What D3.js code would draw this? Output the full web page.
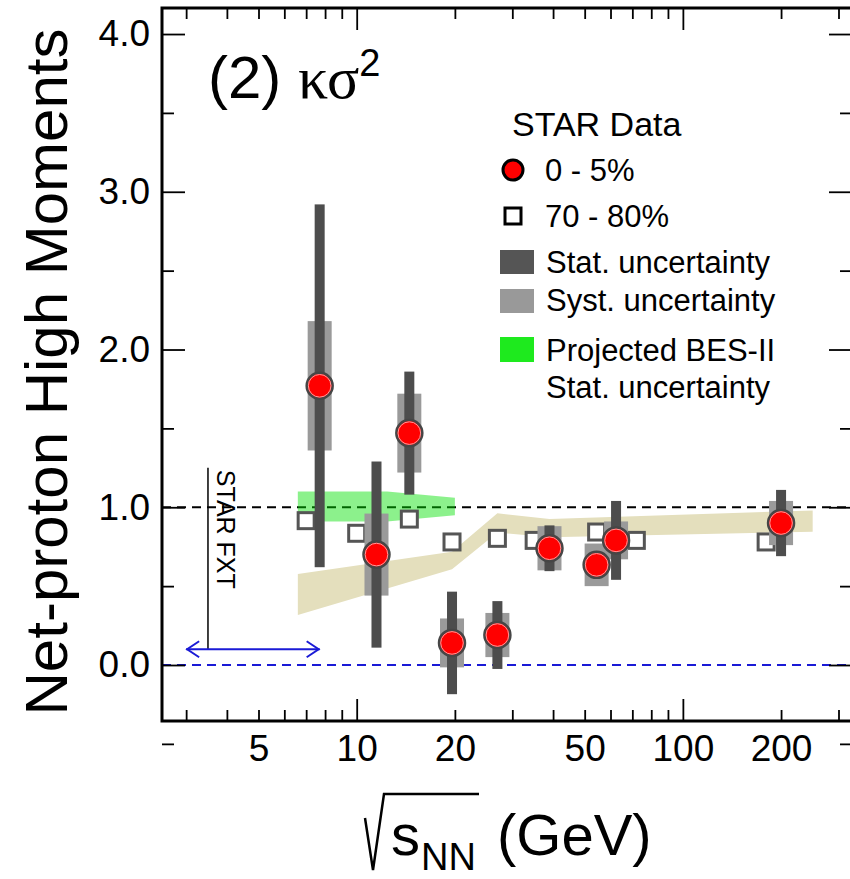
<!DOCTYPE html>
<html>
<head>
<meta charset="utf-8">
<script src="https://cdn.jsdelivr.net/npm/d3@7"></script>
<style>
  html, body { margin: 0; padding: 0; background: #fff; }
  svg { display: block; }
  text { font-family: "Liberation Sans", Arial, Helvetica, sans-serif; fill: #000; }
</style>
</head>
<body>
<svg id="chart" width="850" height="879"></svg>
<script>
// ---------------- data ----------------
// 0-5% central collisions
const energies  = [7.7, 11.5, 14.5, 19.6, 27, 39, 54.4, 62.4, 200];
const central   = [1.77, 0.70, 1.47, 0.14, 0.19, 0.74, 0.635, 0.79, 0.90];
const statErr   = [1.15, 0.59, 0.39, 0.325, 0.215, 0.145, 0.08, 0.25, 0.21];
const systErr   = [0.41, 0.26, 0.25, 0.155, 0.14, 0.14, 0.135, 0.12, 0.14];
// 70-80% peripheral collisions (drawn slightly offset in energy)
const periphE   = [7.0, 10.0, 14.5, 19.6, 27, 35, 54.4, 72, 180];
const periphV   = [0.915, 0.835, 0.925, 0.78, 0.803, 0.79, 0.843, 0.79, 0.78];
// model band (tan)
const modelE    = [6.6, 19.6, 27, 39, 250];
const modelLow  = [0.317, 0.607, 0.84, 0.81, 0.845];
const modelHigh = [0.577, 0.718, 0.962, 0.925, 0.98];
// projected BES-II stat. uncertainty band (green)
const besE      = [6.6, 12.4, 20];
const besLow    = [0.91, 0.91, 0.95];
const besHigh   = [1.10, 1.10, 1.06];
// axis ticks
const yMajor    = [0, 1, 2, 3, 4];
const yMinor    = [-0.5, 0.5, 1.5, 2.5, 3.5];
const yLabels   = ["0.0", "1.0", "2.0", "3.0", "4.0"];
const xMajor    = [10, 100];
const xMinor    = [3, 4, 5, 6, 7, 8, 9, 20, 30, 40, 50, 60, 70, 80, 90, 200, 300];
const xLabels   = [5, 10, 20, 50, 100, 200];
// STAR FXT annotation
const fxtE      = 3.5;
const fxtRange  = [1.25, 0.1];
const arrowE    = [3.0, 7.7];
const arrowV    = 0.1;

// ---------------- layout ----------------
const L = 162, R = 852, T = 8, B = 721;
const svg = d3.select("#chart");
const x = d3.scaleLog().domain([2.53, 330]).range([L, R]);
const y = d3.scaleLinear().domain([-0.355, 4.165]).range([B, T]);

const clip = svg.append("defs").append("clipPath").attr("id", "plotclip");
clip.append("rect").attr("x", L).attr("y", T).attr("width", R - L).attr("height", B - T);
const plot = svg.append("g").attr("clip-path", "url(#plotclip)");

// model band
const area = d3.area().x(d => x(d.e)).y0(d => y(d.lo)).y1(d => y(d.hi));
plot.append("path")
  .datum(modelE.map((e, i) => ({e, lo: modelLow[i], hi: modelHigh[i]})))
  .attr("d", area).attr("fill", "#e4dfbd");

// reference lines
plot.append("line").attr("x1", L).attr("x2", R).attr("y1", y(1)).attr("y2", y(1))
  .attr("stroke", "#000").attr("stroke-width", 2).attr("stroke-dasharray", "9,6");
plot.append("line").attr("x1", L).attr("x2", R).attr("y1", y(0)).attr("y2", y(0))
  .attr("stroke", "#1a1ad6").attr("stroke-width", 2).attr("stroke-dasharray", "9,6");

// BES-II projection band
plot.append("path")
  .datum(besE.map((e, i) => ({e, lo: besLow[i], hi: besHigh[i]})))
  .attr("d", area).attr("fill", "#00e000").attr("fill-opacity", 0.45);

// STAR FXT annotation
plot.append("line")
  .attr("x1", x(fxtE)).attr("x2", x(fxtE)).attr("y1", y(fxtRange[0])).attr("y2", y(fxtRange[1]))
  .attr("stroke", "#000").attr("stroke-width", 1.5);
plot.append("text")
  .attr("transform", `translate(${x(fxtE) + 9},${y(fxtRange[0]) + 2}) rotate(90)`)
  .attr("font-size", 25).text("STAR FXT");
const ay = y(arrowV), ax1 = x(arrowE[0]), ax2 = x(arrowE[1]);
plot.append("line").attr("x1", ax1).attr("x2", ax2).attr("y1", ay).attr("y2", ay)
  .attr("stroke", "#1a1ad6").attr("stroke-width", 2);
plot.append("path")
  .attr("d", `M${ax1 + 13},${ay - 8} L${ax1 + 1},${ay} L${ax1 + 13},${ay + 8} M${ax2 - 13},${ay - 8} L${ax2 - 1},${ay} L${ax2 - 13},${ay + 8}`)
  .attr("fill", "none").attr("stroke", "#1a1ad6").attr("stroke-width", 2);

// peripheral squares
const sq = 16;
plot.selectAll("rect.periph").data(periphE).join("rect").attr("class", "periph")
  .attr("x", d => x(d) - sq / 2).attr("y", (d, i) => y(periphV[i]) - sq / 2)
  .attr("width", sq).attr("height", sq)
  .attr("fill", "#fff").attr("stroke", "#555").attr("stroke-width", 3);

// syst boxes
plot.selectAll("rect.syst").data(energies).join("rect").attr("class", "syst")
  .attr("x", d => x(d) - 12).attr("width", 24)
  .attr("y", (d, i) => y(central[i] + systErr[i]))
  .attr("height", (d, i) => y(central[i] - systErr[i]) - y(central[i] + systErr[i]))
  .attr("fill", "#9a9a9a");
// stat bars
plot.selectAll("rect.stat").data(energies).join("rect").attr("class", "stat")
  .attr("x", d => x(d) - 5).attr("width", 10)
  .attr("y", (d, i) => y(central[i] + statErr[i]))
  .attr("height", (d, i) => y(central[i] - statErr[i]) - y(central[i] + statErr[i]))
  .attr("fill", "#4d4d4d");
// central points
plot.selectAll("circle.c").data(energies).join("circle").attr("class", "c")
  .attr("cx", d => x(d)).attr("cy", (d, i) => y(central[i])).attr("r", 13)
  .attr("fill", "#ff0000").attr("stroke", "#464646").attr("stroke-width", 2.5);
plot.selectAll("circle.ci").data(energies).join("circle").attr("class", "ci")
  .attr("cx", d => x(d)).attr("cy", (d, i) => y(central[i])).attr("r", 11.3)
  .attr("fill", "none").attr("stroke", "#ff9a9a").attr("stroke-width", 1);

// ---------------- axes ----------------
const axes = svg.append("g");
function noDomain(g) { g.select(".domain").remove(); g.selectAll("text").remove(); }
const tickStyle = g => g.selectAll("line").attr("stroke", "#000").attr("stroke-width", 1.8);
// bottom / top
axes.append("g").attr("transform", `translate(0,${B})`)
  .call(d3.axisTop(x).tickValues(xMajor).tickSize(22).tickFormat("")).call(noDomain).call(tickStyle);
axes.append("g").attr("transform", `translate(0,${B})`)
  .call(d3.axisTop(x).tickValues(xMinor).tickSize(11).tickFormat("")).call(noDomain).call(tickStyle);
axes.append("g").attr("transform", `translate(0,${T})`)
  .call(d3.axisBottom(x).tickValues(xMajor).tickSize(22).tickFormat("")).call(noDomain).call(tickStyle);
axes.append("g").attr("transform", `translate(0,${T})`)
  .call(d3.axisBottom(x).tickValues(xMinor).tickSize(11).tickFormat("")).call(noDomain).call(tickStyle);
// left / right
axes.append("g").attr("transform", `translate(${L},0)`)
  .call(d3.axisRight(y).tickValues(yMajor).tickSize(23).tickFormat("")).call(noDomain).call(tickStyle);
axes.append("g").attr("transform", `translate(${L},0)`)
  .call(d3.axisRight(y).tickValues(yMinor).tickSize(12).tickFormat("")).call(noDomain).call(tickStyle);
axes.append("g").attr("transform", `translate(${R},0)`)
  .call(d3.axisLeft(y).tickValues(yMajor).tickSize(23).tickFormat("")).call(noDomain).call(tickStyle);
axes.append("g").attr("transform", `translate(${R},0)`)
  .call(d3.axisLeft(y).tickValues(yMinor).tickSize(12).tickFormat("")).call(noDomain).call(tickStyle);

// tick labels
const xl = axes.append("g").attr("transform", `translate(0,${B})`)
  .call(d3.axisBottom(x).tickValues(xLabels).tickSize(0).tickPadding(14).tickFormat(d3.format("d")));
xl.select(".domain").remove();
xl.selectAll("text").attr("font-size", 37).attr("font-family", "Liberation Sans, Arial, sans-serif").attr("fill", "#000");
const yl = axes.append("g").attr("transform", `translate(${L},0)`)
  .call(d3.axisLeft(y).tickValues(yMajor).tickSize(0).tickPadding(12).tickFormat((d, i) => yLabels[i]));
yl.select(".domain").remove();
yl.selectAll("text").attr("font-size", 37).attr("font-family", "Liberation Sans, Arial, sans-serif").attr("fill", "#000");

// frame
svg.append("rect").attr("x", L).attr("y", T).attr("width", R - L).attr("height", B - T)
  .attr("fill", "none").attr("stroke", "#000").attr("stroke-width", 3);

// ---------------- titles ----------------
const title = svg.append("text").attr("x", 208).attr("y", 98).attr("font-size", 60);
title.append("tspan").text("(2) ");
title.append("tspan").attr("font-family", "Liberation Serif, Times New Roman, serif").text("κσ");
title.append("tspan").attr("font-size", 38).attr("dy", -22).text("2");

svg.append("text").attr("transform", "translate(67,372) rotate(-90)")
  .attr("text-anchor", "middle").attr("font-size", 60).text("Net-proton High Moments");

// x title: sqrt(s_NN) (GeV)
svg.append("path").attr("d", "M365,818 L373,870 L384,794 L479,794")
  .attr("fill", "none").attr("stroke", "#000").attr("stroke-width", 2.5);
svg.append("text").attr("x", 391).attr("y", 855).attr("font-size", 58).text("s");
svg.append("text").attr("x", 421).attr("y", 870).attr("font-size", 38).text("NN");
svg.append("text").attr("x", 497).attr("y", 855).attr("font-size", 58).text("(GeV)");

// ---------------- legend ----------------
const lg = svg.append("g");
lg.append("text").attr("x", 512).attr("y", 136).attr("font-size", 34).text("STAR Data");
lg.append("circle").attr("cx", 513).attr("cy", 170).attr("r", 10)
  .attr("fill", "#ff0000").attr("stroke", "#000").attr("stroke-width", 3);
lg.append("text").attr("x", 545).attr("y", 181).attr("font-size", 31).text("0 - 5%");
lg.append("rect").attr("x", 505).attr("y", 208).attr("width", 16).attr("height", 16)
  .attr("fill", "#fff").attr("stroke", "#000").attr("stroke-width", 3);
lg.append("text").attr("x", 545).attr("y", 227).attr("font-size", 31).text("70 - 80%");
lg.append("rect").attr("x", 500).attr("y", 250).attr("width", 34).attr("height", 24).attr("fill", "#555");
lg.append("text").attr("x", 546).attr("y", 273).attr("font-size", 31).text("Stat. uncertainty");
lg.append("rect").attr("x", 500).attr("y", 289).attr("width", 34).attr("height", 24).attr("fill", "#999");
lg.append("text").attr("x", 546).attr("y", 311).attr("font-size", 31).text("Syst. uncertainty");
lg.append("rect").attr("x", 500).attr("y", 337).attr("width", 34).attr("height", 25).attr("fill", "#1eea1e");
lg.append("text").attr("x", 546).attr("y", 361).attr("font-size", 31).text("Projected BES-II");
lg.append("text").attr("x", 546).attr("y", 398).attr("font-size", 31).text("Stat. uncertainty");
</script>
</body>
</html>
